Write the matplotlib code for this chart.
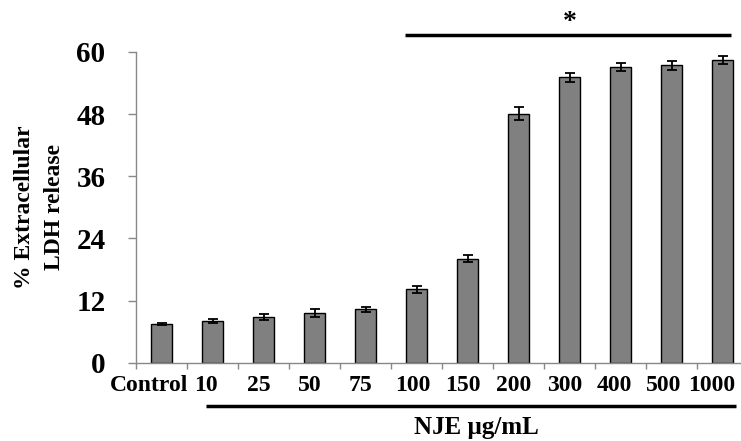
import matplotlib
matplotlib.use("Agg")
import matplotlib.pyplot as plt
import matplotlib.transforms as mtransforms
import numpy as np

categories = ["Control", "10", "25", "50", "75", "100", "150", "200", "300", "400", "500", "1000"]
values = [7.5, 8.05, 8.8, 9.6, 10.3, 14.2, 20.1, 48.1, 55.1, 57.1, 57.4, 58.4]
errors = [0.15, 0.4, 0.58, 0.8, 0.55, 0.65, 0.7, 1.2, 0.8, 0.7, 0.8, 0.8]
yticks = [0, 12, 24, 36, 48, 60]

plt.rcParams['font.family'] = ['Liberation Serif', 'DejaVu Serif']
plt.rcParams['font.weight'] = 'bold'

fig = plt.figure(figsize=(7.41, 4.41), dpi=100)
ax = fig.add_axes([136/741, 1-362.7/441, 612/741, (362.7-52)/441])

x = np.arange(len(categories))
ax.bar(x, values, width=0.41, color='#808080', edgecolor='black', linewidth=1.0,
       yerr=errors, error_kw=dict(ecolor='black', elinewidth=1.3, capsize=3.4, capthick=1.3))

ax.set_xlim(-0.5, len(categories) - 0.5)
ax.set_ylim(0, 60)
ax.set_yticks(yticks)
ax.set_yticklabels([str(v) for v in yticks], fontsize=21, fontweight='bold')
ax.tick_params(axis='y', direction='out', length=6, width=1, color='#888888', pad=16)

ax.set_xticks(x)
ax.set_xticklabels(categories, fontsize=17, fontweight='bold')
ax.tick_params(axis='x', which='major', length=0, pad=9)
ax.set_xticks(np.arange(len(categories) + 1) - 0.5, minor=True)
ax.tick_params(axis='x', which='minor', direction='out', length=4, width=1, color='#888888')

# small leftward nudge of x tick labels as in the reference
shifts = [-12, -7, -5, -5, -5, -4, -5, -5, -5, -6, -8, -11]
for lab, dx in zip(ax.get_xticklabels(), shifts):
    lab.set_transform(lab.get_transform() + mtransforms.ScaledTranslation(dx / 100, 0, fig.dpi_scale_trans))

for s in ['top', 'right']:
    ax.spines[s].set_visible(False)
for s in ['left', 'bottom']:
    ax.spines[s].set_color('#888888')
    ax.spines[s].set_linewidth(1.0)

ax.set_ylabel("% Extracellular\nLDH release", fontsize=17, fontweight='bold', labelpad=8,
              linespacing=1.55)

# significance line and star
ax.plot([4.77, 11.16], [63.3, 63.3], color='black', lw=2.5, clip_on=False, solid_capstyle='butt')
ax.text(8.0, 63.2, "*", ha='center', va='bottom', fontsize=20, fontweight='bold')

# bracket line under x labels and x label
ax.plot([0.87, 11.26], [-8.4, -8.4], color='black', lw=2.5, clip_on=False, solid_capstyle='butt')
ax.text(6.17, -12.6, "NJE µg/mL", ha='center', va='center', fontsize=18, fontweight='bold')

fig.savefig("out.png", dpi=100)
